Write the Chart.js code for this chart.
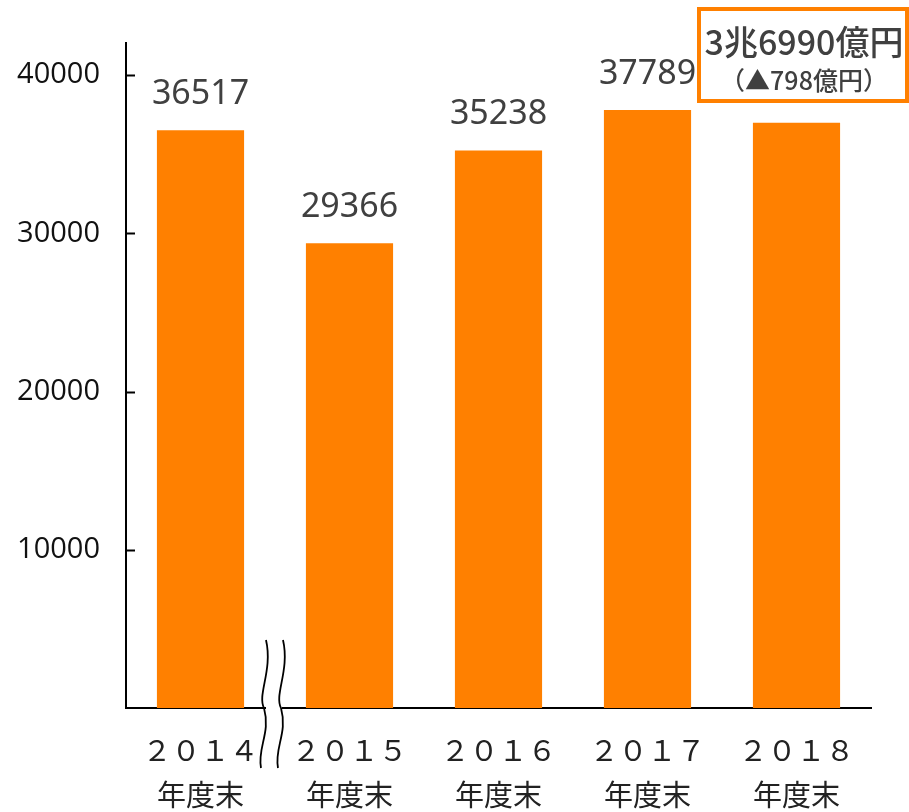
<!DOCTYPE html>
<html lang="ja">
<head>
<meta charset="utf-8">
<script src="https://cdn.jsdelivr.net/npm/chart.js@4/dist/chart.umd.min.js"></script>
<style>
  html, body { margin: 0; padding: 0; background: #fff; }
  #wrap { width: 909px; height: 812px; }
</style>
</head>
<body>
<div id="wrap"><canvas id="c" width="909" height="812"></canvas></div>
<script>
// データ
const years = ['２０１４', '２０１５', '２０１６', '２０１７', '２０１８'];
const suffix = '年度末';
const values = [36517, 29366, 35238, 37789, 36990];
const yTicks = [10000, 20000, 30000, 40000];
const noteLines = ['3兆6990億円', '（▲798億円）'];

const orange = '#ff8000';
const jp = '"Noto Sans CJK JP", "Noto Sans", sans-serif';

// 棒の上の数値と注記ボックス
const labelPlugin = {
    id: 'labels',
    afterDatasetsDraw(chart) {
        const c = chart.ctx;
        const meta = chart.getDatasetMeta(0);
        c.save();
        c.fillStyle = '#404040';
        c.font = '34px "Noto Sans", sans-serif';
        c.textAlign = 'center';
        c.textBaseline = 'middle';
        meta.data.forEach((bar, i) => {
            if (i === values.length - 1) return;
            c.fillText(values[i], bar.x, bar.y - 36);
        });

        // 2018年度の注記
        c.strokeStyle = orange;
        c.lineWidth = 4;
        c.strokeRect(699, 9, 208, 92);
        c.fillStyle = '#404040';
        c.font = '500 34px ' + jp;
        c.fillText(noteLines[0], 804, 42);
        c.font = '500 25px ' + jp;
        c.fillText(noteLines[1], 804, 80);
        c.restore();
    }
};

// 内向きの目盛りと省略記号
const axisPlugin = {
    id: 'axisExtras',
    afterDraw(chart) {
        const c = chart.ctx;
        const y = chart.scales.y;
        const x0 = chart.chartArea.left;
        const bottom = chart.chartArea.bottom;
        c.save();
        c.strokeStyle = '#000';
        c.lineWidth = 2;
        yTicks.forEach(v => {
            const py = Math.round(y.getPixelForValue(v)) + 0.5;
            c.beginPath();
            c.moveTo(x0, py);
            c.lineTo(x0 + 9, py);
            c.stroke();
        });

        // 波線（軸の省略）
        const mid = (chart.scales.x.getPixelForValue(0) + chart.scales.x.getPixelForValue(1)) / 2;
        const top = 640, end = 768;
        c.fillStyle = '#fff';
        c.fillRect(mid - 9, bottom - 3, 16, 6);
        c.lineWidth = 1.8;
        [mid - 11, mid + 6].forEach(lx => {
            c.beginPath();
            c.moveTo(lx + 2, top);
            c.bezierCurveTo(lx + 9, top + 30, lx - 7, top + 55, lx, bottom);
            c.bezierCurveTo(lx + 7, bottom + 25, lx - 7, bottom + 40, lx - 3, end);
            c.stroke();
        });
        c.restore();
    }
};

new Chart(document.getElementById('c'), {
    type: 'bar',
    data: {
        labels: years.map(y => [y, suffix]),
        datasets: [{
            data: values,
            backgroundColor: orange,
            borderWidth: 0,
            barPercentage: 0.585,
            categoryPercentage: 1
        }]
    },
    options: {
        responsive: false,
        animation: false,
        layout: { padding: { left: 0, right: 38, top: 42, bottom: 0 } },
        plugins: {
            legend: { display: false },
            tooltip: { enabled: false }
        },
        scales: {
            x: {
                grid: { display: false, drawTicks: false },
                border: { display: true, color: '#000', width: 2 },
                ticks: {
                    color: '#222',
                    font: { family: jp, size: 29, lineHeight: 1.55 },
                    padding: 20,
                    maxRotation: 0,
                    autoSkip: false
                },
                afterFit(s) { s.height = 104; }
            },
            y: {
                min: 0,
                max: 42000,
                grid: { display: false, drawTicks: false },
                border: { display: true, color: '#000', width: 2 },
                ticks: {
                    color: '#111',
                    padding: 26,
                    autoSkip: false,
                    font: { family: '"Open Sans", "Noto Sans", sans-serif', size: 29 },
                    callback: v => String(v)
                },
                afterBuildTicks(s) { s.ticks = yTicks.map(v => ({ value: v })); },
                afterFit(s) { s.width = 126; }
            }
        }
    },
    plugins: [labelPlugin, axisPlugin]
});
</script>
</body>
</html>
